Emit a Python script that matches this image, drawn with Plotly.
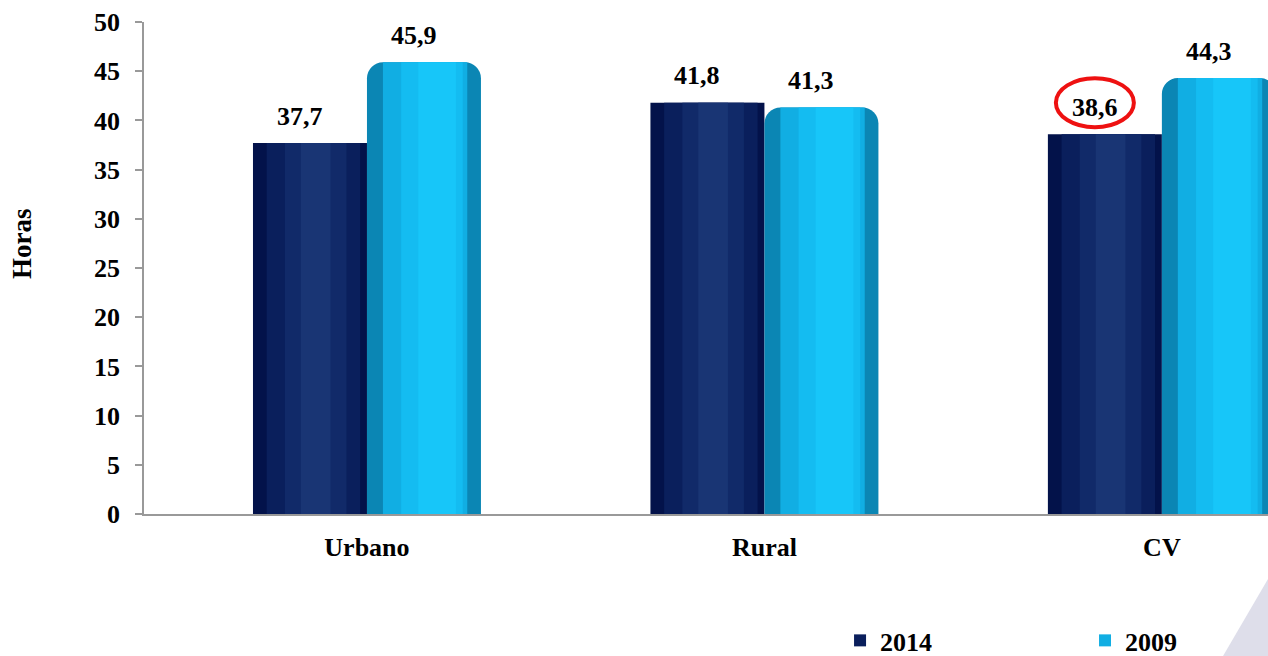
import plotly.graph_objects as go

categories = ["Urbano", "Rural", "CV"]
series_names = ["2014", "2009"]
values_2014 = [37.7, 41.8, 38.6]
values_2009 = [45.9, 41.3, 44.3]
y_ticks = [0, 5, 10, 15, 20, 25, 30, 35, 40, 45, 50]
y_title = "Horas"

FONT = "Liberation Serif"
x_idx = list(range(len(categories)))
BAR_W = 0.2868
OFF = BAR_W / 2

# (start fraction, end fraction, colour, legend?, corner radius px) layers to fake shading
layers_2014 = [(0.0, 1.0, "#03124a", False, 0), (0.12, 0.94, "#0a1f5c", True, 0),
               (0.28, 0.82, "#112a69", False, 0), (0.42, 0.68, "#193574", False, 0)]
layers_2009 = [(0.0, 1.0, "#0b86b4", False, 16), (0.14, 0.88, "#11aee3", True, 0),
               (0.3, 0.84, "#14bcf1", False, 0), (0.45, 0.78, "#17c6f9", False, 0)]

fig = go.Figure()
for values, layers, base_off, name, leg in [
        (values_2014, layers_2014, -BAR_W, series_names[0], "legend"),
        (values_2009, layers_2009, 0.0, series_names[1], "legend2")]:
    for (a, b, col, show, r) in layers:
        fig.add_trace(go.Bar(
            x=x_idx, y=values, name=name, legend=leg, showlegend=show,
            width=BAR_W * (b - a), offset=base_off + BAR_W * a,
            marker=dict(color=col, line=dict(width=0), cornerradius=r)))

def fmt(v):
    return f"{v:.1f}".replace(".", ",")

ann = []
for off, vals in [(-OFF, values_2014), (OFF, values_2009)]:
    for i, v in enumerate(vals):
        ann.append(dict(x=i + off, y=v, text=f"<b>{fmt(v)}</b>", showarrow=False,
                        xref="x", yref="y", yanchor="middle", yshift=27, xshift=-10,
                        font=dict(family=FONT, size=26, color="black")))
ann.append(dict(x=-0.1085, y=0.549, xref="paper", yref="paper", text=f"<b>{y_title}</b>",
                textangle=-90, showarrow=False, xanchor="center", yanchor="middle",
                font=dict(family=FONT, size=27, color="black")))

shapes = [
    dict(type="circle", xref="x", yref="y", xsizemode="pixel", ysizemode="pixel",
         xanchor=2 - OFF, yanchor=values_2014[2], x0=-49, x1=29, y0=7, y1=56,
         line=dict(color="#ee1111", width=4), fillcolor="rgba(0,0,0,0)"),
    dict(type="path", xref="paper", yref="paper",
         path="M 0.96 -0.2886 L 1.0 -0.132 L 1.0 -0.2886 Z",
         fillcolor="#dedeea", line=dict(width=0), layer="below"),
]

legend_common = dict(orientation="h", xref="container", yref="container",
                     y=0.0595, yanchor="top", xanchor="left",
                     itemwidth=30, bgcolor="rgba(0,0,0,0)",
                     font=dict(family=FONT, size=26, color="black", weight="bold"))

fig.update_layout(
    width=1268, height=656,
    margin=dict(l=144, r=0, t=22, b=142, autoexpand=False),
    plot_bgcolor="white", paper_bgcolor="white",
    barmode="overlay",
    font=dict(family=FONT, size=26, color="black"),
    showlegend=True,
    legend=dict(x=0.6625, **legend_common),
    legend2=dict(x=0.8557, **legend_common),
    annotations=ann,
    shapes=shapes,
    xaxis=dict(range=[-0.561, 2.267], tickmode="array", tickvals=x_idx,
               ticktext=[f"<b>{c}</b>" for c in categories],
               showline=True, linecolor="#999999", linewidth=2, ticks="",
               showgrid=False, zeroline=False, ticklabelstandoff=9,
               tickfont=dict(family=FONT, size=26, color="black")),
    yaxis=dict(range=[0, 50], tickmode="array", tickvals=y_ticks,
               ticktext=[f"<b>{t}</b>" for t in y_ticks],
               showline=True, linecolor="#999999", linewidth=1.5,
               ticks="outside", ticklen=7, tickcolor="#999999", tickwidth=1.5,
               showgrid=False, zeroline=False, ticklabelstandoff=10,
               tickfont=dict(family=FONT, size=26, color="black")),
)

fig.write_html("out.html", config={"displayModeBar": False},
               post_script="document.body.style.margin='0';")
